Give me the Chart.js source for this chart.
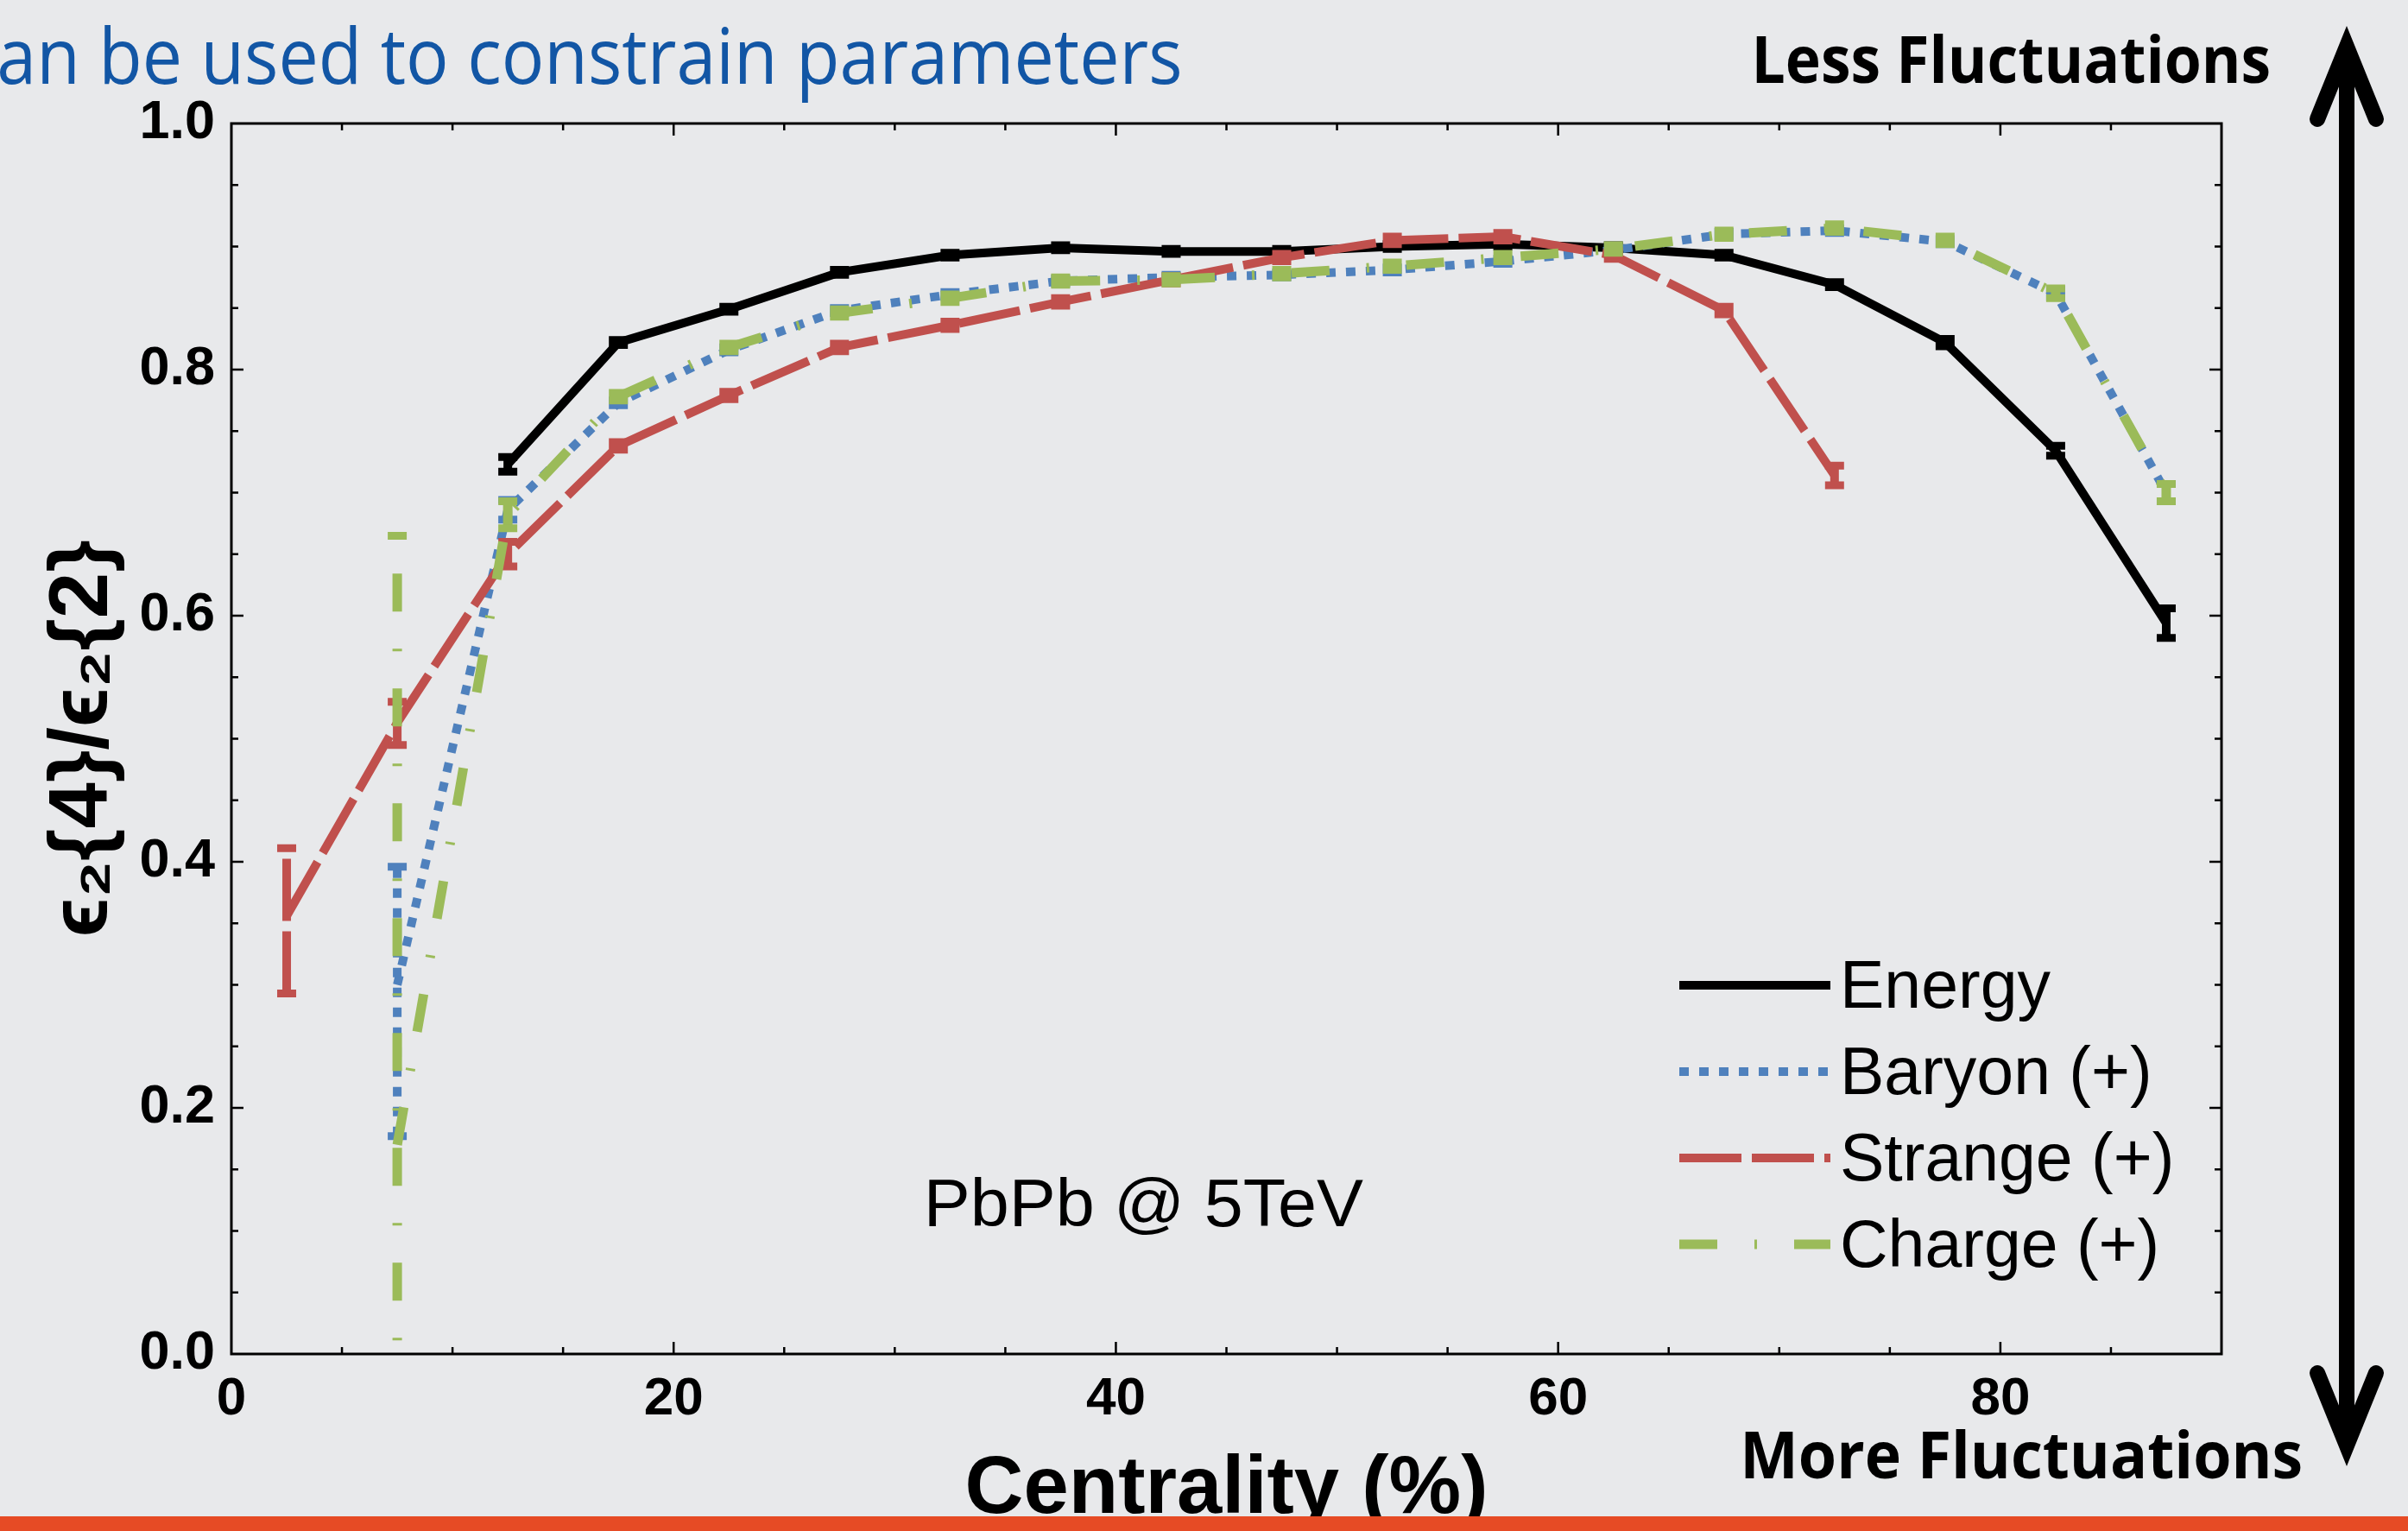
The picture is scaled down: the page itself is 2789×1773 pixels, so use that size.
<!DOCTYPE html>
<html>
<head>
<meta charset="utf-8">
<script src="https://cdn.jsdelivr.net/npm/chart.js@4.4.1/dist/chart.umd.min.js"></script>
<style>
  html, body { margin: 0; padding: 0; background: #e8e9eb; overflow: hidden; }
  canvas { display: block; }
</style>
</head>
<body>
<canvas id="c" width="2789" height="1773"></canvas>
<script>
// ---------------- data ----------------
const centrality = [2.5, 7.5, 12.5, 17.5, 22.5, 27.5, 32.5, 37.5, 42.5, 47.5, 52.5, 57.5, 62.5, 67.5, 72.5, 77.5, 82.5, 87.5];

const energy        = [null, null, 0.723, 0.822, 0.849, 0.879, 0.893, 0.899, 0.896, 0.896, 0.900, 0.902, 0.899, 0.893, 0.869, 0.822, 0.734, 0.594];
const energyErrLow  = [null, null, 0.006, 0.002, 0.002, 0.002, 0.002, 0.002, 0.002, 0.002, 0.002, 0.002, 0.002, 0.002, 0.002, 0.003, 0.004, 0.012];
const energyErrHigh = [null, null, 0.006, 0.002, 0.002, 0.002, 0.002, 0.002, 0.002, 0.002, 0.002, 0.002, 0.002, 0.002, 0.002, 0.003, 0.004, 0.012];

const baryon        = [null, 0.300, 0.686, 0.773, 0.816, 0.848, 0.861, 0.872, 0.875, 0.877, 0.881, 0.888, 0.897, 0.910, 0.913, 0.904, 0.862, 0.700];
const baryonErrLow  = [null, 0.123, 0.008, 0.002, 0.002, 0.002, 0.002, 0.002, 0.002, 0.002, 0.002, 0.002, 0.002, 0.002, 0.002, 0.002, 0.003, 0.007];
const baryonErrHigh = [null, 0.096, 0.008, 0.002, 0.002, 0.002, 0.002, 0.002, 0.002, 0.002, 0.002, 0.002, 0.002, 0.002, 0.002, 0.002, 0.003, 0.007];

const strange        = [0.356, 0.513, 0.650, 0.738, 0.779, 0.818, 0.836, 0.855, 0.873, 0.891, 0.905, 0.908, 0.893, 0.848, 0.714, null, null, null];
const strangeErrLow  = [0.063, 0.018, 0.010, 0.003, 0.003, 0.003, 0.003, 0.003, 0.003, 0.003, 0.003, 0.003, 0.003, 0.003, 0.008, null, null, null];
const strangeErrHigh = [0.055, 0.017, 0.010, 0.003, 0.003, 0.003, 0.003, 0.003, 0.003, 0.003, 0.003, 0.003, 0.003, 0.003, 0.008, null, null, null];

const charge        = [null, 0.170, 0.682, 0.778, 0.818, 0.846, 0.858, 0.872, 0.873, 0.878, 0.884, 0.891, 0.898, 0.910, 0.915, 0.905, 0.862, 0.700];
const chargeErrLow  = [null, 0.220, 0.011, 0.003, 0.003, 0.003, 0.003, 0.003, 0.003, 0.003, 0.003, 0.003, 0.003, 0.003, 0.003, 0.003, 0.004, 0.007];
const chargeErrHigh = [null, 0.495, 0.011, 0.003, 0.003, 0.003, 0.003, 0.003, 0.003, 0.003, 0.003, 0.003, 0.003, 0.003, 0.003, 0.003, 0.004, 0.007];

const seriesLabels = ['Energy', 'Baryon (+)', 'Strange (+)', 'Charge (+)'];

const xTickValues = [0, 20, 40, 60, 80];
const yTickValues = [0.0, 0.2, 0.4, 0.6, 0.8, 1.0];
const xMinorStep = 5;
const yMinorStep = 0.05;

const xTitle = 'Centrality (%)';
const yTitle = 'ϵ₂{4}/ϵ₂{2}';
const headline = 'an be used to constrain parameters';
const topNote = 'Less Fluctuations';
const bottomNote = 'More Fluctuations';
const systemNote = 'PbPb @ 5TeV';

// ---------------- helpers ----------------
const toXY = vals => centrality.map((c, i) => ({ x: c, y: vals[i] }));
const SANS = "'Liberation Sans', Arial, sans-serif";
const CALIBRI = "'Open Sans', 'Noto Sans', sans-serif";

function fittedText(ctx, text, font, color, left, baseline, width) {
  ctx.save();
  ctx.font = font;
  ctx.fillStyle = color;
  ctx.textAlign = 'left';
  ctx.textBaseline = 'alphabetic';
  const m = ctx.measureText(text);
  const ink = m.actualBoundingBoxLeft + m.actualBoundingBoxRight;
  ctx.translate(left, baseline);
  ctx.scale(width / ink, 1);
  ctx.fillText(text, m.actualBoundingBoxLeft, 0);
  ctx.restore();
}

// error bars drawn per dataset, right after that dataset's line
const errorBars = {
  id: 'errorBars',
  afterDatasetDraw(chart, args) {
    const ds = chart.data.datasets[args.index];
    if (!ds.errLow) return;
    const { ctx, chartArea: a, scales: { x, y } } = chart;
    ctx.save();
    ctx.beginPath();
    ctx.rect(a.left, a.top, a.right - a.left, a.bottom - a.top);
    ctx.clip();
    ctx.strokeStyle = ds.borderColor;
    ds.data.forEach((p, j) => {
      if (p.y == null || ds.errLow[j] == null) return;
      const px = x.getPixelForValue(p.x);
      const yl = y.getPixelForValue(p.y - ds.errLow[j]);
      const yh = y.getPixelForValue(p.y + ds.errHigh[j]);
      ctx.setLineDash(ds.borderDash || []);
      ctx.lineWidth = ds.borderWidth;
      ctx.beginPath();
      ctx.moveTo(px, yl);
      ctx.lineTo(px, yh);
      ctx.stroke();
      ctx.setLineDash([]);
      ctx.lineWidth = 9;
      ctx.beginPath();
      ctx.moveTo(px - 11, yl); ctx.lineTo(px + 11, yl);
      ctx.moveTo(px - 11, yh); ctx.lineTo(px + 11, yh);
      ctx.stroke();
    });
    ctx.restore();
  }
};

// frame with inward ticks on all four sides, legend, annotations
const decorations = {
  id: 'decorations',
  afterDraw(chart) {
    const { ctx, chartArea: a, scales: { x, y } } = chart;
    ctx.save();
    // frame
    ctx.strokeStyle = '#000';
    ctx.setLineDash([]);
    ctx.lineWidth = 3;
    ctx.strokeRect(a.left, a.top, a.right - a.left, a.bottom - a.top);
    // ticks
    ctx.lineWidth = 2.5;
    ctx.beginPath();
    for (let k = 1; k * xMinorStep < x.max; k++) {
      const v = k * xMinorStep;
      const px = x.getPixelForValue(v);
      const len = xTickValues.includes(v) ? 14 : 8;
      ctx.moveTo(px, a.bottom); ctx.lineTo(px, a.bottom - len);
      ctx.moveTo(px, a.top); ctx.lineTo(px, a.top + len);
    }
    for (let k = 1; k * yMinorStep < y.max - 1e-9; k++) {
      const v = k * yMinorStep;
      const py = y.getPixelForValue(v);
      const major = yTickValues.some(t => Math.abs(t - v) < 1e-9);
      const len = major ? 14 : 8;
      ctx.moveTo(a.left, py); ctx.lineTo(a.left + len, py);
      ctx.moveTo(a.right, py); ctx.lineTo(a.right - len, py);
    }
    ctx.stroke();

    // legend (inside plot, lower right)
    chart.data.datasets.forEach((ds, i) => {
      const ly = 1141 + i * 100;
      ctx.strokeStyle = ds.borderColor;
      ctx.lineWidth = ds.borderWidth;
      ctx.setLineDash(ds.borderDash || []);
      ctx.lineCap = 'butt';
      ctx.beginPath();
      ctx.moveTo(1945, ly); ctx.lineTo(2120, ly);
      ctx.stroke();
      ctx.setLineDash([]);
      ctx.fillStyle = '#000';
      ctx.font = '77px ' + SANS;
      ctx.textAlign = 'left';
      ctx.textBaseline = 'alphabetic';
      ctx.fillText(ds.label, 2131, ly + 26);
    });

    // annotation inside the plot
    fittedText(ctx, systemNote, '78px ' + SANS, '#000', 1076, 1420, 503);

    // slide texts
    fittedText(ctx, headline, '90px ' + CALIBRI, '#1256a5', 0, 97, 1366);
    fittedText(ctx, topNote, 'bold 75px ' + CALIBRI, '#000', 2034, 96, 594);
    fittedText(ctx, bottomNote, 'bold 75px ' + CALIBRI, '#000', 2021, 1712, 644);

    // double arrow
    ctx.strokeStyle = '#000';
    ctx.lineWidth = 18;
    ctx.lineCap = 'butt';
    ctx.beginPath();
    ctx.moveTo(2718, 62); ctx.lineTo(2718, 1666);
    ctx.stroke();
    ctx.lineCap = 'round';
    ctx.lineJoin = 'miter';
    ctx.beginPath();
    ctx.moveTo(2684, 138); ctx.lineTo(2718, 54); ctx.lineTo(2752, 138);
    ctx.moveTo(2684, 1590); ctx.lineTo(2718, 1674); ctx.lineTo(2752, 1590);
    ctx.stroke();

    // orange slide bar at the bottom
    ctx.fillStyle = '#e64b25';
    ctx.fillRect(0, 1756, 2789, 17);
    ctx.restore();
  }
};

const common = { pointRadius: 0, pointHoverRadius: 0, tension: 0, fill: false, spanGaps: false, borderCapStyle: 'butt' };

new Chart(document.getElementById('c'), {
  type: 'line',
  data: {
    datasets: [
      Object.assign({ label: seriesLabels[0], data: toXY(energy), errLow: energyErrLow, errHigh: energyErrHigh,
        borderColor: '#000000', borderWidth: 10, borderDash: [], order: 4 }, common),
      Object.assign({ label: seriesLabels[1], data: toXY(baryon), errLow: baryonErrLow, errHigh: baryonErrHigh,
        borderColor: '#4f81bd', borderWidth: 10, borderDash: [11, 12], order: 3 }, common),
      Object.assign({ label: seriesLabels[2], data: toXY(strange), errLow: strangeErrLow, errHigh: strangeErrHigh,
        borderColor: '#c0504d', borderWidth: 10, borderDash: [72, 12], order: 2 }, common),
      Object.assign({ label: seriesLabels[3], data: toXY(charge), errLow: chargeErrLow, errHigh: chargeErrHigh,
        borderColor: '#9bbb59', borderWidth: 11, borderDash: [44, 43, 3, 43], order: 1 }, common)
    ]
  },
  options: {
    responsive: false,
    animation: false,
    devicePixelRatio: 1,
    events: [],
    layout: { padding: { top: 143, right: 216, bottom: 0, left: 0 } },
    plugins: { legend: { display: false }, tooltip: { enabled: false }, title: { display: false } },
    scales: {
      x: {
        type: 'linear', min: 0, max: 90,
        afterBuildTicks: s => { s.ticks = xTickValues.map(v => ({ value: v })); },
        afterFit: s => { s.height = 205; },
        grid: { display: false },
        border: { display: false },
        ticks: { color: '#000', padding: 8, maxRotation: 0, autoSkip: false,
          font: { family: SANS, size: 62, weight: 'bold' }, callback: v => String(v) },
        title: { display: true, text: xTitle, color: '#000', padding: { top: 0, bottom: 0 },
          font: { family: SANS, size: 94, weight: 'bold', lineHeight: 1 } }
      },
      y: {
        type: 'linear', min: 0, max: 1,
        afterBuildTicks: s => { s.ticks = yTickValues.map(v => ({ value: v })); },
        afterFit: s => { s.width = 268; },
        grid: { display: false },
        border: { display: false },
        ticks: { color: '#000', padding: 11, autoSkip: false,
          font: { family: SANS, size: 63, weight: 'bold' }, callback: v => Number(v).toFixed(1) },
        title: { display: true, text: yTitle, color: '#000', padding: { top: 50, bottom: 0 },
          font: { family: SANS, size: 96, weight: 'bold', lineHeight: 1 } }
      }
    }
  },
  plugins: [errorBars, decorations]
});
</script>
</body>
</html>
